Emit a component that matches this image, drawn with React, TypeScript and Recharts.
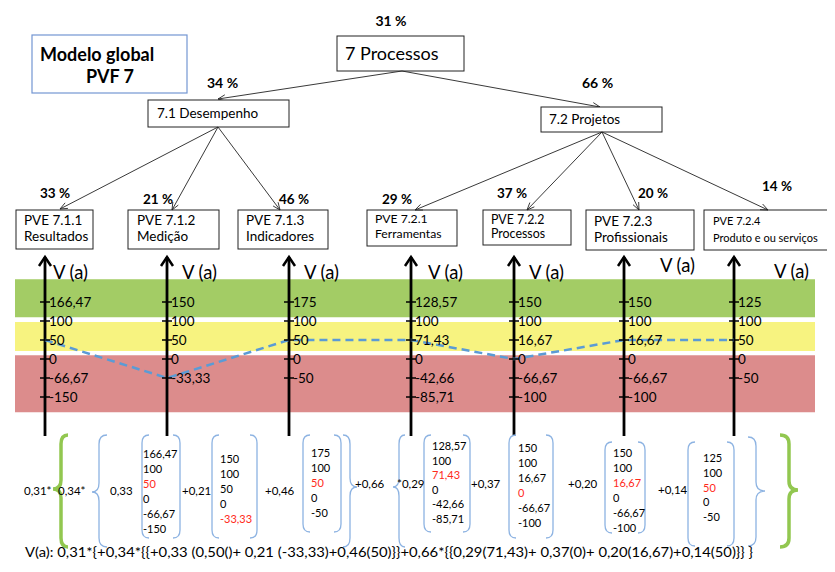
import React from 'react';
import { ComposedChart, Line, Scatter, XAxis, YAxis, ReferenceArea, ReferenceLine } from 'recharts';

// ---------- data ----------
const categories = ['PVE 7.1.1', 'PVE 7.1.2', 'PVE 7.1.3', 'PVE 7.2.1', 'PVE 7.2.2', 'PVE 7.2.3', 'PVE 7.2.4'];
const subtitles = ['Resultados', 'Medição', 'Indicadores', 'Ferramentas', 'Processos', 'Profissionais', 'Produto e ou serviços'];
const leafWeights = ['33 %', '21 %', '46 %', '29 %', '37 %', '20 %', '14 %'];
const tickLabels = [
  ['166,47', '100', '50', '0', '-66,67', '-150'],
  ['150', '100', '50', '0', '-33,33'],
  ['175', '100', '50', '0', '-50'],
  ['128,57', '100', '71,43', '0', '-42,66', '-85,71'],
  ['150', '100', '16,67', '0', '-66,67', '-100'],
  ['150', '100', '16,67', '0', '-66,67', '-100'],
  ['125', '100', '50', '0', '-50'],
];
const selectedValues = ['50', '-33,33', '50', '71,43', '0', '16,67', '50'];
const coefTexts = ['0,31*', '0,34*', '0,33', '+0,21', '+0,46', '+0,66', '*0,29', '+0,37', '+0,20', '+0,14'];
const formula = 'V(a): 0,31*{+0,34*{{+0,33 (0,50()+ 0,21 (-33,33)+0,46(50)}}+0,66*{{0,29(71,43)+ 0,37(0)+ 0,20(16,67)+0,14(50)}} }';

// ---------- layout ----------
const W = 835;
const H = 572;
const BASE_Y = 397;
const PX_PER_LEVEL = 19;
const Y_DOMAIN = [(BASE_Y - H) / PX_PER_LEVEL, BASE_Y / PX_PER_LEVEL];
const COLUMN_X = [45, 167, 289, 411, 514, 624, 734];
const AXIS_TOP = (BASE_Y - 257) / PX_PER_LEVEL;
const AXIS_BOTTOM = (BASE_Y - 436) / PX_PER_LEVEL;
const VLABEL_DX = [8, 15, 15, 17, 15, 36, 40];
const VLABEL_DY = [22, 22, 22, 22, 22, 15, 21];
const FONT = 'Lato, Carlito, sans-serif';

const lineData = categories.map((c, i) => ({
  name: c,
  x: COLUMN_X[i],
  level: 5 - tickLabels[i].indexOf(selectedValues[i]),
}));
const tickData = tickLabels.flatMap((ticks, i) =>
  ticks.map((t, j) => ({ x: COLUMN_X[i], level: 5 - j, label: t }))
);
const topData = categories.map((c, i) => ({ x: COLUMN_X[i], level: AXIS_TOP, i }));

const TickShape = (props: any) => {
  const { cx, cy, payload } = props;
  return (
    <g>
      <line x1={cx - 5} x2={cx + 5} y1={cy} y2={cy} stroke="#000" strokeWidth={1.5} />
      <text x={cx + 4} y={cy + 5} fontSize={13.5} fontFamily={FONT} fill="#000">{payload.label}</text>
    </g>
  );
};

const TopShape = (props: any) => {
  const { cx, cy, payload } = props;
  return (
    <g>
      <polyline points={`${cx - 6},${cy + 9} ${cx},${cy} ${cx + 6},${cy + 9}`} fill="none" stroke="#000" strokeWidth={2.5} />
      <text x={cx + VLABEL_DX[payload.i]} y={cy + VLABEL_DY[payload.i]} fontSize={18.5} fontFamily={FONT} fill="#000">V (a)</text>
    </g>
  );
};

// ---------- overlay helpers ----------
const Arrow = ({ x1, y1, x2, y2 }: any) => {
  const a = Math.atan2(y2 - y1, x2 - x1);
  const s = 8;
  const p1 = [x2 - s * Math.cos(a - 0.4), y2 - s * Math.sin(a - 0.4)];
  const p2 = [x2 - s * Math.cos(a + 0.4), y2 - s * Math.sin(a + 0.4)];
  return (
    <g stroke="#222" strokeWidth={0.9} fill="none">
      <line x1={x1} y1={y1} x2={x2} y2={y2} />
      <polyline points={`${p1[0]},${p1[1]} ${x2},${y2} ${p2[0]},${p2[1]}`} />
    </g>
  );
};

const bracePath = (xEnd: number, xSpine: number, xCusp: number, yTop: number, yMid: number, yBot: number) => {
  const r = 9;
  return `M${xEnd},${yTop} Q${xSpine},${yTop} ${xSpine},${yTop + r} L${xSpine},${yMid - r} Q${xSpine},${yMid} ${xCusp},${yMid} Q${xSpine},${yMid} ${xSpine},${yMid + r} L${xSpine},${yBot - r} Q${xSpine},${yBot} ${xEnd},${yBot}`;
};

const parenPath = (x: number, dir: number, yTop: number, yBot: number) => {
  const d = 7 * dir;
  return `M${x + d},${yTop} Q${x},${yTop} ${x},${yTop + 8} L${x},${yBot - 8} Q${x},${yBot} ${x + d},${yBot}`;
};

const leafLayout = [
  { x: 16, w: 77, h: 39, tx: 24, fs: 13.5, b1: 225, b2: 241 },
  { x: 128, w: 91, h: 39, tx: 137, fs: 13.5, b1: 225, b2: 241 },
  { x: 238, w: 90, h: 39, tx: 246, fs: 13.5, b1: 225, b2: 241 },
  { x: 367, w: 90, h: 36, tx: 375, fs: 12.2, b1: 223, b2: 238 },
  { x: 483, w: 88, h: 35, tx: 491, fs: 12.4, b1: 224, b2: 238 },
  { x: 586, w: 108, h: 40, tx: 594, fs: 13.5, b1: 226, b2: 242 },
  { x: 704, w: 128, h: 40, tx: 713, fs: 11, b1: 225, b2: 242 },
];
const weightLayout = [
  { x: 40, y: 198 }, { x: 143, y: 204 }, { x: 279, y: 204 }, { x: 382, y: 204 },
  { x: 497, y: 198 }, { x: 638, y: 198 }, { x: 762, y: 191 },
];
const leafArrowEnd = [[60, 209], [172, 210], [280, 210], [415, 210], [527, 210], [639, 210], [768, 210]];
const matrixLayout = [
  { l: 142, r: 180, t: 435, b: 538, tx: 143, y0: 458, step: 15 },
  { l: 212, r: 257, t: 435, b: 538, tx: 220, y0: 463, step: 15 },
  { l: 303, r: 341, t: 435, b: 532, tx: 311, y0: 457, step: 15 },
  { l: 424, r: 470, t: 435, b: 532, tx: 432, y0: 450, step: 14.6 },
  { l: 509, r: 553, t: 435, b: 538, tx: 518, y0: 452, step: 15 },
  { l: 605, r: 645, t: 442, b: 533, tx: 613, y0: 457, step: 15 },
  { l: 688, r: 734, t: 442, b: 546, tx: 703, y0: 462, step: 14.8 },
];
const coefLayout = [
  [24, 495], [58, 495], [110, 495], [182, 495], [265, 495], [355, 488], [397, 488], [471, 488], [568, 488], [658, 494],
];

const Overlay = () => (
  <svg width={W} height={H} style={{ position: 'absolute', left: 0, top: 0, pointerEvents: 'none' }} fontFamily={FONT}>
    <line x1={0} x2={W} y1={5} y2={5} stroke="#e2e2e2" strokeWidth={1.5} />
    {/* title box */}
    <rect x={32} y={35} width={155} height={58} fill="#fff" stroke="#7396d2" strokeWidth={1.2} />
    <text x={40} y={61} fontSize={18} fontWeight="bold">Modelo global</text>
    <text x={86} y={83} fontSize={18} fontWeight="bold">PVF 7</text>
    {/* root */}
    <text x={391} y={26} fontSize={14} fontWeight="bold" textAnchor="middle">31 %</text>
    <rect x={337} y={36} width={127} height={35} fill="#fff" stroke="#222" strokeWidth={1} />
    <text x={345} y={60} fontSize={18}>7 Processos</text>
    <Arrow x1={402} y1={71} x2={218} y2={99} />
    <Arrow x1={402} y1={71} x2={600} y2={107} />
    <text x={207} y={88} fontSize={14} fontWeight="bold">34 %</text>
    <text x={582} y={88} fontSize={14} fontWeight="bold">66 %</text>
    <rect x={148} y={100} width={141} height={27} fill="#fff" stroke="#222" strokeWidth={1} />
    <text x={157} y={118} fontSize={13.5}>7.1 Desempenho</text>
    <rect x={541} y={107} width={121} height={25} fill="#fff" stroke="#222" strokeWidth={1} />
    <text x={549} y={124} fontSize={13.5}>7.2 Projetos</text>
    {leafArrowEnd.map(([x, y], i) => (
      <Arrow key={'a' + i} x1={i < 3 ? 218 : 602} y1={i < 3 ? 127 : 132} x2={x} y2={y} />
    ))}
    {categories.map((c, i) => {
      const L = leafLayout[i];
      return (
        <g key={'leaf' + i}>
          <rect x={L.x} y={210} width={L.w} height={L.h} fill="none" stroke="#222" strokeWidth={1} />
          <text x={L.tx} y={L.b1} fontSize={L.fs}>{c}</text>
          <text x={L.tx} y={L.b2} fontSize={L.fs}>{subtitles[i]}</text>
          <text x={weightLayout[i].x} y={weightLayout[i].y} fontSize={13.5} fontWeight="bold">{leafWeights[i]}</text>
        </g>
      );
    })}
    {/* bottom braces */}
    <path d={bracePath(68, 61, 53, 435, 489, 547)} fill="none" stroke="#92c750" strokeWidth={3.5} />
    <path d={bracePath(780, 789, 798, 435, 490, 547)} fill="none" stroke="#92c750" strokeWidth={3.5} />
    <path d={bracePath(107, 99, 92, 435, 492, 547)} fill="none" stroke="#8db3e2" strokeWidth={1.3} />
    <path d={bracePath(343, 350, 357, 435, 487, 547)} fill="none" stroke="#8db3e2" strokeWidth={1.3} />
    <path d={bracePath(405, 399, 393, 435, 487, 547)} fill="none" stroke="#8db3e2" strokeWidth={1.3} />
    <path d={bracePath(748, 756, 765, 437, 491, 546)} fill="none" stroke="#8db3e2" strokeWidth={1.3} />
    {matrixLayout.map((M, i) => (
      <g key={'m' + i}>
        <path d={parenPath(M.l, 1, M.t, M.b)} fill="none" stroke="#8db3e2" strokeWidth={1.3} />
        <path d={parenPath(M.r, -1, M.t, M.b)} fill="none" stroke="#8db3e2" strokeWidth={1.3} />
        {tickLabels[i].map((t, j) => (
          <text key={j} x={M.tx} y={M.y0 + j * M.step} fontSize={11} fill={t === selectedValues[i] ? '#ff2a1a' : '#000'}>{t}</text>
        ))}
      </g>
    ))}
    {coefTexts.map((t, i) => (
      <text key={'c' + i} x={coefLayout[i][0]} y={coefLayout[i][1]} fontSize={11.5}>{t}</text>
    ))}
    <text x={25} y={557} fontSize={14} textLength={728} lengthAdjust="spacingAndGlyphs">{formula}</text>
  </svg>
);

export default function App() {
  return (
    <div style={{ position: 'relative', width: W, height: H, margin: '-8px 0 0 -8px', background: '#fff', fontFamily: FONT }}>
      <ComposedChart width={W} height={H} data={lineData} margin={{ top: 0, right: 0, bottom: 0, left: 0 }}>
        <XAxis dataKey="x" type="number" domain={[0, W]} hide allowDataOverflow />
        <YAxis dataKey="level" type="number" domain={Y_DOMAIN} hide allowDataOverflow />
        <ReferenceArea x1={15} x2={815} y1={4.2} y2={6.2} fill="#a3cc65" fillOpacity={1} stroke="none" ifOverflow="visible" />
        <ReferenceArea x1={15} x2={815} y1={2.42} y2={3.95} fill="#f7f380" fillOpacity={1} stroke="none" ifOverflow="visible" />
        <ReferenceArea x1={15} x2={815} y1={-0.8} y2={2.2} fill="#dc8c8c" fillOpacity={1} stroke="none" ifOverflow="visible" />
        {COLUMN_X.map((x) => (
          <ReferenceLine key={x} segment={[{ x, y: AXIS_BOTTOM }, { x, y: AXIS_TOP }]} stroke="#000" strokeWidth={2.8} ifOverflow="visible" />
        ))}
        <Line dataKey="level" stroke="#5b9bd5" strokeWidth={2.5} strokeDasharray="8 5" dot={false} isAnimationActive={false} />
        <Scatter data={tickData} dataKey="level" shape={<TickShape />} isAnimationActive={false} />
        <Scatter data={topData} dataKey="level" shape={<TopShape />} isAnimationActive={false} />
      </ComposedChart>
      <Overlay />
    </div>
  );
}
